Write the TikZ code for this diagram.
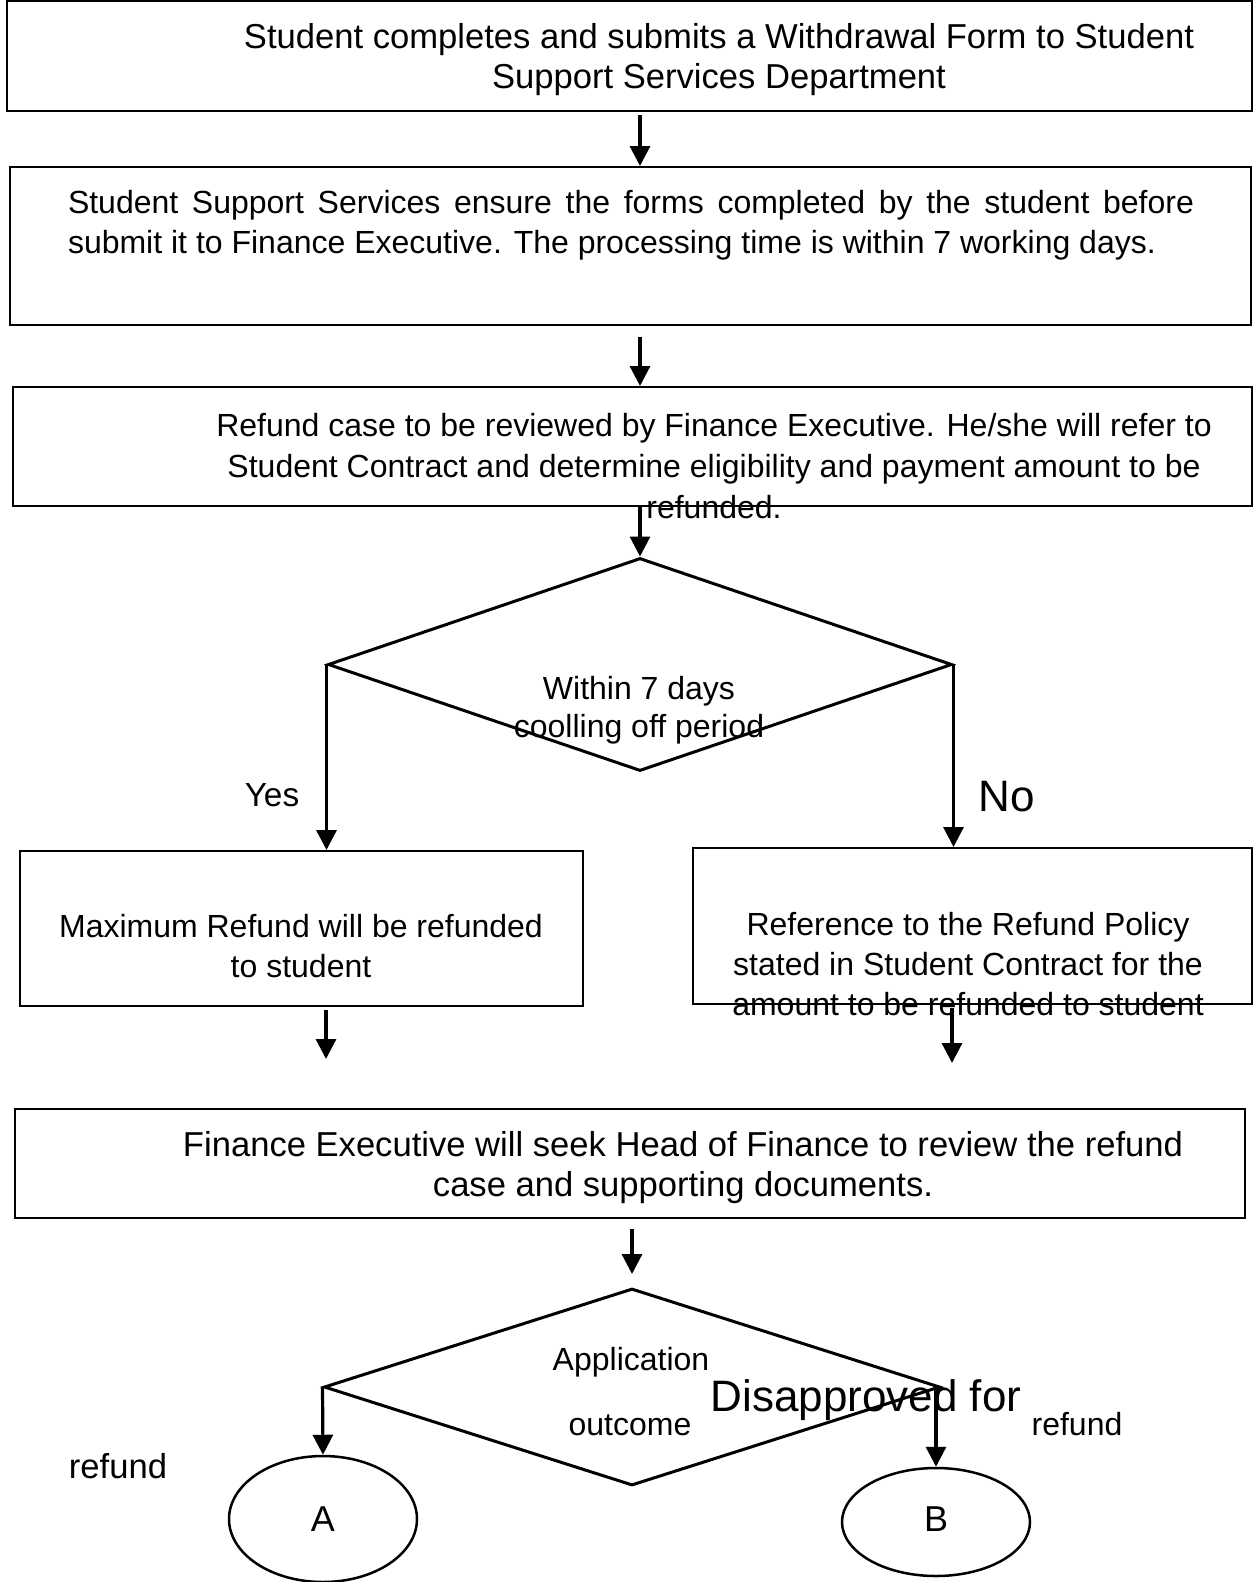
\documentclass[tikz,border=0pt]{standalone}
\usepackage{fontspec}
\setmainfont{Liberation Sans}
\usetikzlibrary{positioning, arrows.meta, shapes.geometric}

\begin{document}
\begin{tikzpicture}[
    x=1pt, y=-1pt,
    % Shape styles
    base/.style={draw, line width=2pt, inner sep=0pt},
    box/.style={base, rectangle},
    decision/.style={base, diamond, line width=3pt},
    terminal/.style={base, ellipse, line width=2.5pt},
    % Text styles
    txt/.style={inner sep=0pt, align=center, font=\fontsize{32}{40}\selectfont},
    bigtxt/.style={txt, font=\fontsize{34.6}{40}\selectfont},
    hugetxt/.style={txt, font=\fontsize{44}{50}\selectfont},
    % Arrow style
    arrow/.style={->, line width=3.2pt},
    >={Triangle[length=20pt, width=20pt]}
]
    \useasboundingbox (0,0) rectangle (1253,1582);

    % --- BOXES ---
    \node[box, minimum width=1245pt, minimum height=110pt] (submit) at (629.5,56) {};
    \node[box, minimum width=1241pt, minimum height=158pt] (check) at (630.5,246) {};
    \node[box, minimum width=1239pt, minimum height=119pt] (review) at (632.5,446.5) {};
    \node[decision, minimum width=624pt, minimum height=213pt] (cool) at (640,664.5) {};
    \node[box, minimum width=563pt, minimum height=155pt] (maxref) at (301.5,928.5) {};
    \node[box, minimum width=559pt, minimum height=156pt] (policy) at (972.5,926) {};
    \node[box, minimum width=1230pt, minimum height=109pt] (seek) at (630,1163.5) {};
    \node[decision, minimum width=616pt, minimum height=197pt] (outcome) at (632,1387) {};
    \node[terminal, minimum width=188pt, minimum height=126pt] (A) at (323,1519) {};
    \node[terminal, minimum width=188pt, minimum height=108pt] (B) at (936,1522) {};

    % --- TEXTS ---
    \node[bigtxt] (submittxt) at (719,60) {Student completes and submits a Withdrawal Form to Student\\Support Services Department};
    \node[txt, text width=1126pt, align=justify] (checktxt) at (631,225.5) {Student Support Services ensure the forms completed by the student before\linebreak submit it to Finance Executive. The processing time is within 7 working days.};
    \node[txt, font=\fontsize{32}{41}\selectfont] (reviewtxt) at (714,466) {Refund case to be reviewed by Finance Executive. He/she will refer to\\Student Contract and determine eligibility and payment amount to be\\refunded.};
    \node[txt, font=\fontsize{32}{38.5}\selectfont] (cooltxt) at (639,710) {Within 7 days\\coolling off period};
    \node[txt] (maxreftxt) at (301,946) {Maximum Refund will be refunded\\to student};
    \node[txt] (policytxt) at (968,964) {Reference to the Refund Policy\\stated in Student Contract for the\\amount to be refunded to student};
    \node[bigtxt, font=\fontsize{34.6}{39.5}\selectfont] (seektxt) at (683,1167.5) {Finance Executive will seek Head of Finance to review the refund\\case and supporting documents.};
    \node[txt] (apptxt) at (631,1362) {Application};
    \node[txt] (outtxt) at (630,1425) {outcome};
    \node[hugetxt] (distxt) at (866,1400) {Disapproved for};
    \node[txt] (refundB) at (1077,1424) {refund};
    \node[bigtxt] (refundA) at (118,1466) {refund};
    \node[bigtxt, font=\fontsize{36}{40}\selectfont] at (A) {A};
    \node[bigtxt, font=\fontsize{36}{40}\selectfont] at ([yshift=3pt]B.center) {B};
    \node[txt, font=\fontsize{33.4}{40}\selectfont] (yes) at (272,795) {Yes};
    \node[hugetxt] (no) at (1007,797) {No};

    % --- ARROWS ---
    \coordinate (leftend) at (326,1059);
    \coordinate (rightend) at (952,1063);
    \draw[arrow] ([yshift=-3pt]submit.south -| cool) -- (check.north -| cool);
    \draw[arrow] ([yshift=-11pt]check.south -| cool) -- (review.north -| cool);
    \draw[arrow] (review.south -| cool) -- (cool.north);
    \draw[arrow] (cool.west) -- (cool.west |- maxref.north);
    \draw[arrow] (cool.east) -- (cool.east |- policy.north);
    \draw[arrow] ([yshift=-3pt]maxref.south -| leftend) -- (leftend);
    \draw[arrow] ([yshift=-3pt]policy.south -| rightend) -- (rightend);
    \draw[arrow] ([yshift=-10pt]seek.south -| outcome) -- ([yshift=13pt]outcome.north);
    \draw[arrow] (outcome.west) -- (A.north);
    \draw[arrow] (outcome.east -| B) -- (B.north);

\end{tikzpicture}
\end{document}
